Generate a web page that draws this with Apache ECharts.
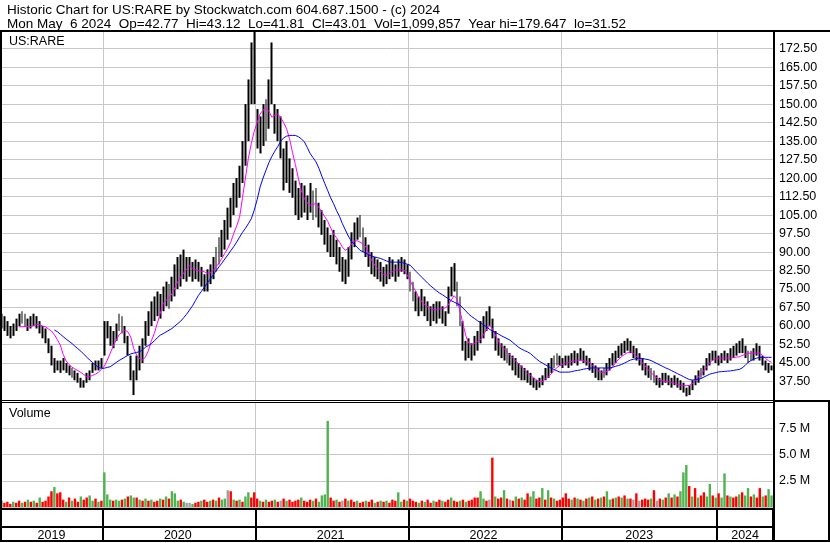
<!DOCTYPE html>
<html><head><meta charset="utf-8">
<script src="https://cdn.jsdelivr.net/npm/echarts@6/dist/echarts.min.js"></script>
<style>html,body{margin:0;padding:0;background:#fff}#c{width:830px;height:543px}</style>
</head><body><div id="c"></div>
<script>
// ---- DATA (weekly, starting week of 2019-04-29) ----
const startDate = [2019, 3, 29];
const numWeeks = 263;
const yearLabels = ['2019', '2020', '2021', '2022', '2023', '2024'];
const titleLine1 = 'Historic Chart for US:RARE by Stockwatch.com 604.687.1500 - (c) 2024';
const titleLine2 = 'Mon May  6 2024  Op=42.77  Hi=43.12  Lo=41.81  Cl=43.01  Vol=1,099,857  Year hi=179.647  lo=31.52';
const priceMin = 30, priceMax = 179.65, priceStep = 7.5;
const volMin = 0, volMax = 10, volStep = 2.5;

const high = [
65,64,62,60,61,63,65,66,65,63, 64,65,64,62,60,59,55,52,47,46,
46,47,45,44,43,42,41,39,38,41, 42,45,46,46,47,62,62,60,58,61,
65,64,60,56,48,42,48,52,55,62, 66,70,72,74,73,76,78,77,80,85,
88,89,91,88,88,86,87,86,84,81, 83,85,88,92,96,99,103,108,112,118,
120,125,135,150,160,175,179.6,148,145,150, 152,160,175,150,148,145,132,135,128,124,
119,116,118,117,113,118,115,116,110,107, 103,100,97,99,95,92,88,87,92,98,
102,104,105,100,96,93,90,88,87,86, 84,85,88,87,85,87,88,87,85,82,
78,74,72,75,72,70,68,69,70,70, 68,66,76,84,85.5,78,72,62,54,55,
53,56,58,62,64,66,68,63,58,55, 53,52,51,49,48,47,45,44,43,42,
41,39,38,39,40,43,45,47,48,49, 48,47,48,48,49,50,49,51,50,48,
47,45,44,43,42,43,45,47,49,50, 52,53,54,55,54,52,51,49,47,45,
44,43,42,40,39,41,41,40,39,40, 39,38,37,35,36,38,40,42,43,44,
47,49,50,50,48,49,50,49,51,52, 53,54,55,52,50,50,51,53,52,48,
46,45,44];
const low = [
59,58,56,55,56,58,60,61,60,58, 59,60,59,57,55,53,49,44,41,42,
41,42,41,40,39,38,37,35,35,37, 38,41,42,42,43,48,55,52,51,54,
58,57,53,48,38,32,38,42,45,52, 56,60,62,64,63,66,68,67,70,72,
75,76,79,78,80,78,79,78,76,74, 74,77,79,82,85,88,91,95,100,105,
108,112,118,125,135,150,150,132,130,133, 135,140,150,138,135,128,115,118,114,112,
105,103,104,106,103,106,103,104,100,97, 93,90,88,88,85,82,78,77,80,87,
92,95,96,90,88,84,81,80,79,78, 76,77,79,80,78,80,82,81,79,74,
70,66,64,66,64,62,60,62,61,63, 61,60,65,72,74,68,60,50,46,47,
46,48,50,53,55,58,60,55,50,48, 47,46,45,44,42,40,39,38,38,37,
36,35,34,35,36,38,39,41,43,44, 44,43,44,43,44,45,44,46,45,44,
42,41,39,38,38,39,40,42,44,45, 47,48,49,50,49,47,46,44,42,40,
39,38,37,36,35,36,37,36,35,36, 35,34,33,31.5,32,34,36,37,39,40,
42,44,46,45,44,45,46,45,46,47, 48,49,49,47,45,46,46,48,46,44,
42,41,42];
const maFast = [
null,null,null,null,null,null,
59.7,59.7,59.8,59.8,59.8,60.2,60.8,60.5,60.0,59.7,
58.8,58.0,56.5,54.5,52.3,48.5,45.8,44.3,43.3,42.6,
41.9,41.2,40.3,39.5,39.6,39.9,40.5,41.2,42.5,43.7,
46.2,49,51.8,54.3,56.4,57.6,58.4,57.6,55.5,50.8,
48.2,46.8,46.2,47.5,50,54,57,61,65,69,
70.5,71.5,73,75.5,78,80,81.5,83,84.5,83.5,
82.8,82.5,82.3,82.0,81.5,81.5,82.5,84.0,85.5,87.5,
89.5,91.5,94,97.5,100.5,104,112,120,128,134,
139,142.5,146,147.5,148.6,147,144.7,145.5,146,144.5,
142.5,140,136,130.5,125.5,120,115,111.8,110,109,
109.3,109.7,108,106.3,104.3,102.5,99.8,97.3,95.8,94.0,
92.0,90.7,91.5,93.0,94.5,94.6,94.0,93.3,92.0,89.0,
86.5,84.7,83.3,82.0,80.9,80.7,81.4,82.0,82.7,82.8,
82.8,82.7,80.8,78.5,76.0,74.0,71.5,69.8,68.5,67.8,
67.1,66.6,66.6,66.9,67.1,67.3,68.5,70.5,72.3,71.0,
66.0,61.0,56.0,53.0,52.5,53.0,53.8,54.5,56.5,58.5,
60.2,59.0,56.5,54.0,52.0,50.8,49.5,48.2,47.0,45.8,
44.6,43.4,42.0,40.8,40.0,39.0,38.2,37.5,37.5,38.5,
39.5,40.5,42.0,43.2,44.0,44.5,45.0,45.3,45.6,45.9,
46.1,46.2,46.0,45.6,45.2,44.2,43.0,41.8,41.3,41.2,
41.6,42.2,43.6,45.2,46.6,47.6,48.5,49.2,49.5,49.0,
47.8,46.5,45.2,43.8,42.3,41.1,40.0,39.0,38.1,37.8,
37.6,37.4,37.2,36.8,36.4,36.0,35.8,35.8,35.9,36.6,
37.8,39.2,40.5,42.0,43.5,45.2,46.2,46.7,47.0,47.0,
47.0,47.0,47.0,47.2,47.4,47.5,48.0,48.5,49.0,49.0,
49.0,49.0,49.0,48.0,46.8,45.9,45.3];
const maSlow = [
null,null,null,null,null,null,null,null,null,null,null,null,null,null,null,null,null,null,
58.4,57.7,56.7,55.7,54.7,53.8,52.9,51.8,50.8,49.8,
48.6,47.4,46.2,45.2,44.2,43.2,42.8,42.9,43.2,43.5,
44.3,45.2,46.0,46.7,47.4,48.1,48.7,49.0,49.3,49.6,
50.4,51.4,52.1,52.8,54.0,55.2,56.3,56.9,57.6,58.3,
59.0,60.0,61.0,62.0,63.4,64.8,66.5,68.2,70.3,72.4,
74.0,75.7,77.4,79.0,80.7,82.3,84.0,85.5,87.2,88.8,
90.5,92.2,94.0,96.0,98.0,99.6,101.5,103.5,107,111.3,
116.4,120,123.2,126.3,128.8,130.9,132.8,134.9,136.3,137.0,
137.3,137.3,137.3,136.8,135.9,134.8,132.5,130,128.3,126.6,
124.0,120.8,117.8,114.9,112.0,109.6,106.8,104.5,101.5,99.0,
96.5,94.5,93.2,92.0,90.7,90.1,89.5,88.9,88.4,88.0,
87.7,87.4,86.9,86.4,86.0,85.9,85.9,85.9,85.8,85.5,
85.1,84.7,83.5,82.2,81.0,79.8,78.6,77.4,76.3,75.3,
74.3,73.4,72.7,71.9,71.1,70.3,69.7,69.1,68.5,67.3,
66.1,64.8,63.8,63.0,62.1,61.4,60.5,59.7,58.7,58.0,
57.4,56.8,56.1,55.5,54.9,54.3,53.3,52.3,51.3,50.6,
50.0,49.5,48.8,47.7,46.7,45.7,45.0,44.3,43.7,42.9,
42.4,41.8,41.3,41.3,41.3,41.3,41.5,41.8,42.0,42.2,
42.5,42.7,42.9,43.0,43.0,43.0,43.0,43.0,43.0,43.0,
43.3,43.7,44.0,44.4,45.0,45.6,46.2,46.5,46.8,47.0,
46.8,46.6,46.4,46.0,45.4,44.8,44.2,43.6,43.0,42.5,
41.9,41.3,40.7,40.1,39.5,38.9,38.3,38.1,38.2,38.4,
38.7,39.3,39.9,40.5,40.8,41.1,41.4,41.5,41.6,41.7,
41.8,42.0,42.2,42.4,43.0,44.0,45.2,46.0,46.6,47.0,
47.3,47.3,47.3,47.3,47.3];
const volume = [
0.6,0.4,0.5,0.3,0.5,0.4,0.6,0.4,0.5,0.7, 0.5,0.6,0.4,0.9,0.5,0.6,1.0,1.5,1.9,1.3,
1.4,0.7,0.5,0.9,0.6,0.8,0.5,1.0,0.7,0.9, 1.1,0.6,0.8,0.5,0.6,3.3,1.2,0.7,0.6,0.7,
0.6,0.7,0.8,1.0,1.1,0.9,0.9,0.7,0.6,0.8, 0.6,0.7,0.5,0.6,0.8,0.7,1.0,0.8,1.5,1.3,
0.6,0.7,0.5,0.4,0.4,0.3,0.4,0.5,0.6,0.7, 0.5,0.6,0.7,0.6,0.9,0.7,0.8,1.6,1.5,0.7,
0.6,0.7,0.5,1.0,1.4,0.9,1.4,0.8,0.6,0.5, 0.7,0.5,0.6,0.7,0.5,0.6,0.8,0.6,0.7,0.5,
0.6,0.7,0.9,0.6,0.5,0.7,0.6,0.8,0.5,1.1, 1.2,8.2,0.9,0.6,0.7,0.5,0.6,0.8,0.6,0.7,
0.5,0.6,0.4,0.5,0.6,0.5,0.7,0.4,0.5,0.6, 0.5,0.6,0.4,0.7,0.6,1.4,0.5,0.7,0.6,0.8,
0.6,0.5,0.4,0.6,0.5,0.7,0.4,0.6,0.5,0.7, 0.6,0.5,0.7,0.9,0.6,0.5,0.6,0.7,0.5,0.6,
0.7,0.9,0.9,1.5,0.8,0.6,0.7,4.7,1.0,0.8, 0.9,1.6,0.8,0.7,0.6,1.0,0.8,0.9,0.7,1.3,
1.0,1.5,0.8,0.9,1.8,0.7,1.6,0.9,0.8,0.6, 0.7,0.9,1.3,0.8,0.7,0.9,0.8,0.7,0.6,0.8,
0.9,1.0,0.7,0.8,0.9,1.0,1.5,0.7,0.8,0.9, 1.0,0.9,1.1,0.8,0.8,0.7,1.3,0.6,0.7,0.8,
0.7,0.8,1.6,0.6,0.8,0.7,0.9,1.3,0.9,1.2, 1.0,1.5,3.3,4.0,2.0,1.0,1.8,0.9,1.1,1.4,
1.0,2.2,1.1,0.9,1.3,0.9,3.2,1.1,1.0,0.9, 1.0,1.2,1.4,1.1,1.8,1.0,1.2,0.9,1.8,1.0,
1.1,1.7,1.1];
const volDir = ("grrrgrrgrg" + "rgrgrrrrgr" + "rrgrgrrgrr" + "ggrgrgggrg" + "grgrggrgrg" +
  "rgrrgrgrgg" + "grgnngrrgr" + "rgrgrggnrg" + "rgrggrrrgr" + "grrgrnrgrr" +
  "rrgrrrgrgg" + "ggrrgrnrgr" + "rgrrgrrgrg" + "rgrrrggrgr" + "rrgrgrrgrr" +
  "grrgrrgrgr" + "rrrggrnrgr" + "rgrnrgrgrr" + "ggrrgrgrgr" + "rrrrgrgrgr" +
  "grgrgrggrg" + "rgrgrnrnrr" + "rgrnrgrgrg" + "rgggrgrgrr" + "ggrgrggrgr" +
  "rgrggrgrrg" + "rgg").split('');

// ---- BUILD ----
const DAY = 86400000;
const t0 = Date.UTC(startDate[0], startDate[1], startDate[2]);
const weeks = [], weekYear = [];
for (let i = 0; i < numWeeks; i++) {
  weeks.push(new Date(t0 + i * 7 * DAY).toISOString().slice(0, 10));
  weekYear.push(new Date(t0 + (i * 7 + 6) * DAY).getUTCFullYear());
}
const yearStart = new Set();
const yearMid = {};
let first = 0, yi = 0;
for (let i = 1; i <= numWeeks; i++) {
  if (i === numWeeks || weekYear[i] !== weekYear[i - 1]) {
    yearMid[Math.floor((first + i - 1) / 2)] = yearLabels[yi++];
    if (i < numWeeks) yearStart.add(i);
    first = i;
  }
}
const dirColor = { g: '#4fb34f', r: '#ff0000', n: '#a0a0a0' };
const FONT = '"Liberation Sans", Arial, sans-serif';
const GRID = '#c8c8c8';

function baseX(gi) {
  return {
    type: 'category', gridIndex: gi, data: weeks, boundaryGap: true,
    axisLine: { show: false }, axisTick: { show: false }, axisLabel: { show: false },
    splitLine: { show: true, interval: (i) => yearStart.has(i), lineStyle: { color: GRID, width: 1 } }
  };
}
const xBand = {
  type: 'category', gridIndex: 2, data: weeks, boundaryGap: true,
  axisLine: { show: false },
  axisTick: { show: true, interval: (i) => yearStart.has(i), length: 14, inside: false, lineStyle: { color: '#000', width: 2 } },
  axisLabel: { show: true, interval: (i) => (i in yearMid), formatter: (v, i) => yearMid[i] || '', margin: 2, fontSize: 12.5, color: '#000', fontFamily: FONT },
  splitLine: { show: true, interval: (i) => yearStart.has(i), lineStyle: { color: '#000', width: 2 } }
};

const chart = echarts.init(document.getElementById('c'), null, { renderer: 'canvas' });
const L = (x1, y1, x2, y2, w) => ({ type: 'line', silent: true, z: 100, shape: { x1, y1, x2, y2 }, style: { stroke: '#000', lineWidth: w } });
const T = (x, y, text, size) => ({ type: 'text', silent: true, z: 100, x, y, style: { text, fill: '#000', fontSize: size, fontFamily: FONT, verticalAlign: 'middle', align: 'left' } });

chart.setOption({
  animation: false,
  backgroundColor: '#fff',
  grid: [
    { left: 0, top: 31, width: 773, height: 369 },
    { left: 0, top: 402, width: 773, height: 105 },
    { left: 0, top: 509, width: 773, height: 18 }
  ],
  xAxis: [baseX(0), baseX(1), xBand],
  yAxis: [
    { type: 'value', gridIndex: 0, position: 'right', min: priceMin, max: priceMax, interval: priceStep,
      axisLine: { show: false }, axisTick: { show: false },
      axisLabel: { formatter: (v) => v.toFixed(2), showMinLabel: false, showMaxLabel: false, margin: 6, fontSize: 12.5, color: '#000', fontFamily: FONT },
      splitLine: { lineStyle: { color: GRID, width: 1 } } },
    { type: 'value', gridIndex: 1, position: 'right', min: volMin, max: volMax, interval: volStep,
      axisLine: { show: false }, axisTick: { show: false },
      axisLabel: { formatter: (v) => v.toFixed(1) + ' M', showMinLabel: false, showMaxLabel: false, margin: 6, fontSize: 12.5, color: '#000', fontFamily: FONT },
      splitLine: { lineStyle: { color: GRID, width: 1 } } },
    { type: 'value', gridIndex: 2, show: false, min: 0, max: 1 }
  ],
  series: [
    { type: 'candlestick', xAxisIndex: 0, yAxisIndex: 0, barWidth: 2.4, z: 2,
      data: weeks.map((_, i) => [low[i], high[i], low[i], high[i]]),
      itemStyle: { color: '#000', color0: '#000', borderColor: '#000', borderColor0: '#000', borderWidth: 0 } },
    { type: 'line', xAxisIndex: 0, yAxisIndex: 0, data: maFast, showSymbol: false, z: 3,
      lineStyle: { color: '#ff00ff', width: 1 }, connectNulls: false },
    { type: 'line', xAxisIndex: 0, yAxisIndex: 0, data: maSlow, showSymbol: false, z: 3,
      lineStyle: { color: '#0000ff', width: 1 }, connectNulls: false },
    { type: 'bar', xAxisIndex: 1, yAxisIndex: 1, barWidth: 2.4,
      data: volume.map((v, i) => ({ value: v, itemStyle: { color: dirColor[volDir[i]] } })) }
  ],
  graphic: [
    T(7, 10, titleLine1, 13.5),
    T(7, 24, titleLine2, 13.5),
    T(9, 42, 'US:RARE', 12.5),
    T(9, 414, 'Volume', 12.5),
    L(0, 31, 830, 31, 2),
    L(1, 31, 1, 542, 2),
    L(774, 31, 774, 542, 2),
    L(0, 400.5, 774, 400.5, 1),
    L(0, 402.5, 774, 402.5, 1),
    L(774, 401, 830, 401, 2),
    L(0, 509, 774, 509, 2),
    L(0, 527, 774, 527, 2),
    L(0, 541, 830, 541, 2),
    L(829, 401, 829, 542, 2)
  ]
});
</script>
</body></html>
